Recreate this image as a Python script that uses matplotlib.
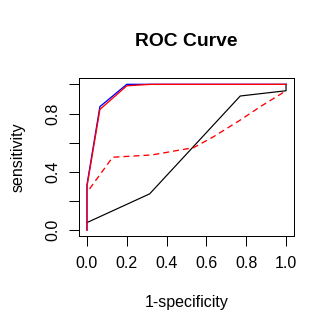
import matplotlib
matplotlib.use("Agg")
import matplotlib.pyplot as plt

# ROC points
fpr_black = [0.0, 0.315, 0.77, 1.0, 1.0]
tpr_black = [0.052, 0.249, 0.92, 0.956, 1.0]

fpr_blue = [0.0, 0.0, 0.065, 0.2, 1.0]
tpr_blue = [0.0, 0.31, 0.847, 1.0, 1.0]

fpr_red = [0.0, 0.0, 0.065, 0.2, 0.32, 1.0]
tpr_red = [0.0, 0.30, 0.828, 0.99, 1.0, 1.0]

fpr_dash = [0.013, 0.129, 0.327, 0.536, 0.636, 0.77, 0.871, 1.0]
tpr_dash = [0.283, 0.50, 0.516, 0.566, 0.641, 0.755, 0.847, 0.956]

x_ticks = [0.0, 0.2, 0.4, 0.6, 0.8, 1.0]
x_labels = ["0.0", "0.2", "0.4", "0.6", "0.8", "1.0"]
y_ticks = [0.0, 0.2, 0.4, 0.6, 0.8, 1.0]
y_labels = ["0.0", "", "0.4", "", "0.8", ""]

plt.rcParams['font.family'] = ['Liberation Sans', 'DejaVu Sans']

W = 334
dpi = 96
fig = plt.figure(figsize=(W / dpi, W / dpi), dpi=dpi)
ax = fig.add_axes([79 / W, (W - 236) / W, (294 - 79) / W, (236 - 78.5) / W])

ax.plot(fpr_black, tpr_black, color='black', lw=0.9)
ax.plot(fpr_blue, tpr_blue, color='#0000FF', lw=1.0)
ax.plot(fpr_red, tpr_red, color='#FF0000', lw=1.0)
ax.plot(fpr_dash, tpr_dash, color='#FF0000', lw=1.0, dashes=(4.5, 3))

ax.set_xlim(-0.04, 1.04)
ax.set_ylim(-0.04, 1.04)
ax.set_xticks(x_ticks)
ax.set_xticklabels(x_labels)
ax.set_yticks(y_ticks)
ax.set_yticklabels(y_labels, rotation=90, va='center')
ax.tick_params(direction='out', length=7.2, width=0.75, labelsize=12, pad=7)
ax.tick_params(axis='x', pad=8)
for s in ax.spines.values():
    s.set_linewidth(0.75)

fig.text(186.5 / W, 1 - 41 / W, "ROC Curve", ha='center', va='center',
         fontsize=14.4, fontweight='bold')
fig.text(186.5 / W, 1 - 303 / W, "1-specificity", ha='center', va='center', fontsize=12)
fig.text(18 / W, 1 - 157 / W, "sensitivity", ha='center', va='center',
         fontsize=12, rotation=90)

fig.savefig("out.png", dpi=dpi)
